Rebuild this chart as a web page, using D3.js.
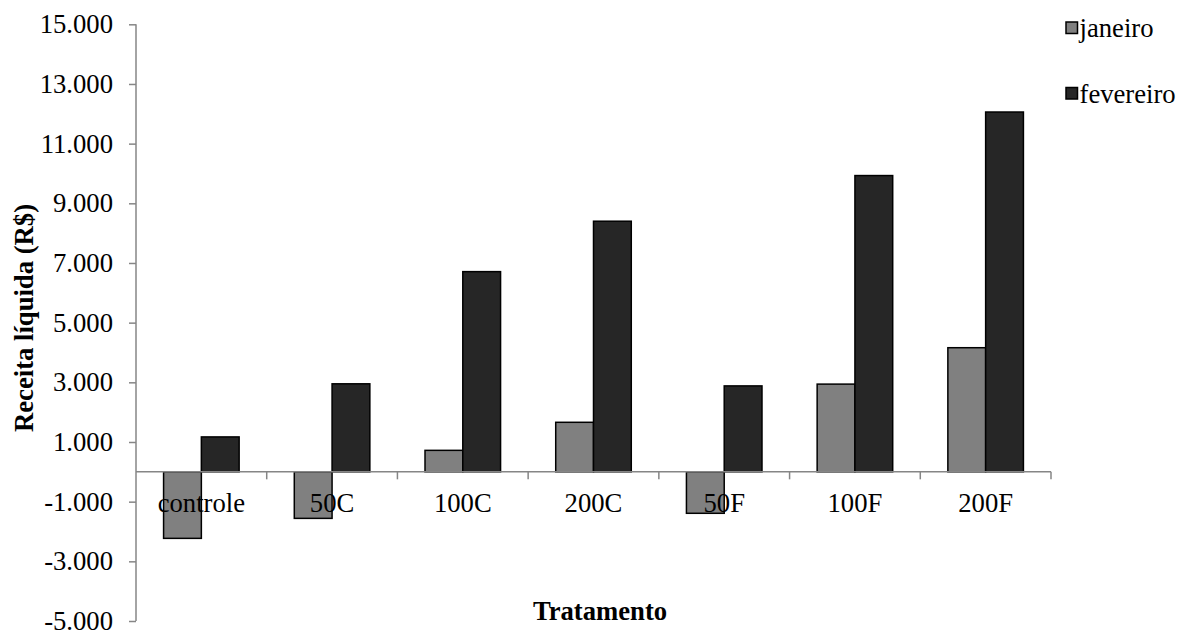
<!DOCTYPE html>
<html>
<head>
<meta charset="utf-8">
<script src="https://cdn.jsdelivr.net/npm/d3@7"></script>
<style>
  body { margin: 0; background: #fff; }
  svg, svg text { font-family: "Liberation Serif", "DejaVu Serif", serif !important; }
</style>
</head>
<body>
<div id="chart"></div>
<script>
const categories = ['controle', '50C', '100C', '200C', '50F', '100F', '200F'];
const series = ['janeiro', 'fevereiro'];
const janeiro = [-2230, -1560, 720, 1660, -1390, 2940, 4160];
const fevereiro = [1170, 2950, 6710, 8400, 2880, 9930, 12060];
const yTicks = [-5000, -3000, -1000, 1000, 3000, 5000, 7000, 9000, 11000, 13000, 15000];
const colors = { janeiro: '#808080', fevereiro: '#262626' };

const width = 1182, height = 630;
const margin = { top: 24.3, right: 131, bottom: 9, left: 136 };
const fontSize = 26.67;
const serif = '"Liberation Serif", "DejaVu Serif", serif';
const axisColor = '#868686';

const svg = d3.select('#chart').append('svg')
  .attr('width', width)
  .attr('height', height)
  .attr('font-family', serif);

const x0 = d3.scaleBand()
  .domain(categories)
  .range([margin.left, width - margin.right])
  .padding(0);

const x1 = d3.scaleBand()
  .domain(series)
  .range([0, x0.bandwidth()])
  .paddingInner(0)
  .paddingOuter(0.73);

const y = d3.scaleLinear()
  .domain([-5000, 15000])
  .range([height - margin.bottom, margin.top]);

const fmt = d => d3.format(',')(d).replace(/,/g, '.').replace('−', '-');

// y axis
const yAxis = svg.append('g')
  .attr('transform', `translate(${margin.left},0)`)
  .call(d3.axisLeft(y).tickValues(yTicks).tickSize(7).tickPadding(16).tickFormat(fmt))
  .attr('font-family', serif);
yAxis.select('.domain')
  .attr('stroke', axisColor).attr('stroke-width', 1.5)
  .attr('d', `M0,${y(15000)}V${y(-5000)}`);
yAxis.selectAll('.tick line').attr('stroke', axisColor).attr('stroke-width', 1.5);
yAxis.selectAll('.tick text')
  .attr('fill', '#000')
  .attr('font-family', serif)
  .style('font-size', fontSize + 'px');

const rows = categories.map((c, i) => ({ cat: c, janeiro: janeiro[i], fevereiro: fevereiro[i] }));

// bars
const groups = svg.append('g').selectAll('g')
  .data(rows)
  .join('g')
  .attr('transform', d => `translate(${x0(d.cat)},0)`);

groups.selectAll('rect')
  .data(d => series.map(s => ({ key: s, value: d[s] })))
  .join('rect')
  .attr('x', d => x1(d.key))
  .attr('width', x1.bandwidth())
  .attr('y', d => y(Math.max(0, d.value)))
  .attr('height', d => Math.abs(y(d.value) - y(0)))
  .attr('fill', d => colors[d.key])
  .attr('stroke', '#000')
  .attr('stroke-width', 1.5);

// x axis at zero
const xAxis = svg.append('g')
  .attr('transform', `translate(0,${y(0)})`);
xAxis.append('line')
  .attr('x1', margin.left).attr('x2', width - margin.right)
  .attr('stroke', axisColor).attr('stroke-width', 1.5);
const boundaries = categories.map(c => x0(c) + x0.bandwidth());
xAxis.selectAll('.xtick')
  .data(boundaries)
  .join('line')
  .attr('class', 'xtick')
  .attr('x1', d => d).attr('x2', d => d)
  .attr('y1', 0).attr('y2', 7.5)
  .attr('stroke', axisColor).attr('stroke-width', 1.5);
xAxis.selectAll('.xlabel')
  .data(categories)
  .join('text')
  .attr('class', 'xlabel')
  .attr('x', d => x0(d) + x0.bandwidth() / 2)
  .attr('y', 40)
  .attr('text-anchor', 'middle')
  .attr('font-family', serif)
  .style('font-size', fontSize + 'px')
  .text(d => d);

// axis titles
svg.append('text')
  .attr('x', 600)
  .attr('y', 620)
  .attr('text-anchor', 'middle')
  .attr('font-weight', 'bold')
  .attr('font-family', serif)
  .style('font-size', fontSize + 'px')
  .text('Tratamento');

svg.append('text')
  .attr('transform', 'translate(33,318) rotate(-90)')
  .attr('text-anchor', 'middle')
  .attr('font-weight', 'bold')
  .attr('font-family', serif)
  .style('font-size', fontSize + 'px')
  .text('Receita líquida (R$)');

// legend
const legend = svg.append('g')
  .attr('transform', 'translate(1066,22)')
  .selectAll('g')
  .data(series)
  .join('g')
  .attr('transform', (d, i) => `translate(0,${i * 65.5})`);
legend.append('rect')
  .attr('width', 11.5).attr('height', 11.5)
  .attr('fill', d => colors[d])
  .attr('stroke', '#000')
  .attr('stroke-width', 1.5);
legend.append('text')
  .attr('x', 13.5)
  .attr('y', 15.3)
  .attr('font-family', serif)
  .style('font-size', fontSize + 'px')
  .text(d => d);
</script>
</body>
</html>
